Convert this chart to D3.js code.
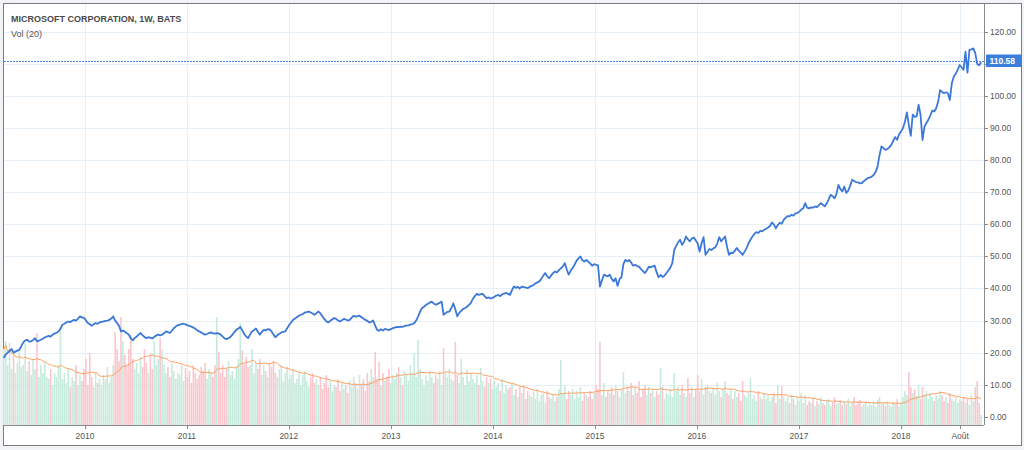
<!DOCTYPE html>
<html>
<head>
<meta charset="utf-8">
<script src="https://cdnjs.cloudflare.com/ajax/libs/d3/7.8.5/d3.min.js"></script>
<style>
  body { margin: 0; background: #f1f3f6; }
  text { font-family: "Liberation Sans", Arial, sans-serif; }
</style>
</head>
<body>
<div id="chart"></div>
<script>
// weekly bars, first one starts this monday
const firstWeek = "2009-03-16";

// weekly close, USD
const closes = [
  18.3, 19.4, 19.9, 20.5, 21.1, 20.0, 20.3, 20.6, 20.9, 22.0,
  23.2, 23.8, 24.0, 23.4, 23.5, 23.9, 24.5, 23.5, 23.7, 24.0,
  24.3, 24.7, 25.0, 25.2, 25.0, 25.6, 25.9, 26.2, 26.6, 27.4,
  28.7, 29.0, 29.4, 29.7, 29.5, 29.9, 30.2, 30.0, 30.6, 31.3,
  31.0, 30.8, 30.1, 29.2, 28.8, 28.4, 28.8, 29.2, 29.0, 29.4,
  29.6, 29.7, 29.9, 30.0, 30.2, 30.6, 31.3, 30.0, 29.2, 28.3,
  26.6, 26.9, 26.5, 26.0, 25.6, 24.4, 23.8, 24.5, 25.0, 25.6,
  26.1, 25.4, 24.9, 24.5, 24.8, 24.6, 24.4, 24.9, 25.3, 25.6,
  25.4, 25.6, 26.0, 26.6, 26.4, 26.1, 26.8, 27.6, 28.1, 28.5,
  28.7, 28.9, 29.0, 28.8, 28.5, 28.3, 28.1, 27.8, 27.4, 27.0,
  26.6, 26.3, 25.9, 25.6, 25.8, 26.1, 26.3, 26.0, 25.9, 26.1,
  25.9, 25.6, 25.0, 24.4, 24.2, 24.5, 24.9, 25.6, 26.4, 27.1,
  27.5, 28.0, 27.0, 25.8, 25.0, 24.5, 25.6, 26.6, 27.0, 27.5,
  26.5, 25.6, 26.4, 27.1, 26.9, 27.3, 27.2, 26.6, 25.6, 24.8,
  25.4, 25.9, 26.3, 26.5, 26.6, 27.6, 28.6, 29.4, 30.2, 30.6,
  31.1, 31.5, 31.8, 32.0, 32.5, 32.6, 32.8, 32.5, 32.2, 31.8,
  32.3, 32.8, 32.2, 31.3, 30.5, 29.8, 29.4, 29.9, 30.3, 30.8,
  30.5, 30.0, 29.7, 30.1, 30.5, 30.3, 30.0, 30.2, 30.9, 31.5,
  31.2, 31.4, 31.5, 31.0, 30.6, 30.2, 29.9, 29.4, 29.6, 30.0,
  28.4, 27.1, 26.8, 27.3, 26.9, 27.4, 27.2, 27.0, 27.3, 27.6,
  27.8, 28.0, 27.9, 28.1, 28.0, 28.3, 28.4, 28.5, 28.7, 28.9,
  29.2, 30.0, 31.3, 32.8, 33.9, 34.3, 34.9, 35.2, 35.6, 35.9,
  35.3, 34.9, 35.2, 35.5, 35.9, 31.8, 32.3, 32.7, 32.8, 33.9,
  35.4, 33.5, 31.3, 32.4, 33.0, 33.6, 33.9, 34.3, 34.9, 35.5,
  36.8, 37.6, 38.3, 38.0, 38.2, 38.3, 37.6, 37.0, 37.2, 36.9,
  37.0, 37.4, 37.8, 38.0, 37.6, 38.2, 38.4, 38.6, 38.3, 38.0,
  39.5, 40.6, 40.2, 40.5, 40.0, 40.6, 40.4, 40.3, 40.1, 40.5,
  40.8, 41.1, 41.6, 41.9, 42.2, 43.0, 44.0, 44.8, 43.8, 43.2,
  44.0, 44.8, 45.3, 45.0, 45.7, 46.3, 46.8, 47.9, 46.0, 44.3,
  45.5, 46.4, 47.4, 48.6, 49.4, 50.0, 48.8, 48.4, 48.9, 48.4,
  47.8, 47.1, 47.6, 47.4, 47.2, 40.6, 42.5, 44.3, 44.0, 43.8,
  44.3, 43.0, 42.2, 43.2, 40.8, 42.9, 43.5, 47.6, 48.9, 48.5,
  48.9, 48.0, 47.1, 47.4, 47.0, 46.8, 46.0, 45.4, 44.8, 45.7,
  46.8, 46.6, 46.9, 47.1, 45.0, 43.5, 44.2, 43.6, 44.0, 44.8,
  45.6, 46.5, 47.9, 52.0, 53.3, 54.4, 55.2, 53.6, 54.5, 56.2,
  55.3, 54.7, 55.6, 55.9, 55.0, 54.0, 51.5, 54.2, 56.0, 50.5,
  51.4, 52.3, 52.0, 52.5, 52.8, 54.0, 56.0, 54.7, 55.5, 56.2,
  53.0, 50.5, 51.2, 51.0, 51.8, 52.6, 51.8, 51.2, 50.5, 51.5,
  52.6, 54.1, 55.2, 56.2, 57.0, 57.6, 57.3, 58.0, 57.8, 58.3,
  58.6, 59.0, 59.5, 60.6, 59.9, 58.8, 59.8, 60.5, 60.2, 61.4,
  62.1, 62.6, 62.5, 63.0, 62.7, 63.4, 63.5, 64.0, 64.6, 65.0,
  66.6, 65.2, 65.0, 65.3, 65.2, 65.6, 65.4, 66.0, 66.6, 66.1,
  65.6, 66.5, 67.8, 69.2, 68.8, 68.1, 69.5, 72.3, 71.0, 70.3,
  71.8, 69.8, 70.5, 72.0, 73.9, 73.5, 73.2, 73.1, 72.8, 72.9,
  73.5, 74.0, 74.4, 74.6, 74.9, 75.4, 76.3, 78.0, 81.5, 84.3,
  83.8, 83.2, 83.5, 84.0, 84.8, 86.0, 87.2, 86.4, 88.0, 89.0,
  90.0, 92.0, 94.9, 91.0, 87.6, 94.2, 93.5, 93.7, 97.3, 94.2,
  86.3, 90.5, 91.6, 92.6, 94.0, 95.5, 95.2, 96.2, 98.3, 101.9,
  101.3, 100.9, 101.2, 100.9, 98.8, 104.0, 106.1, 107.0, 108.2, 109.7,
  109.0, 108.2, 113.9, 107.3, 114.4, 114.6, 114.9, 113.4, 110.0, 109.6, 110.58
];

// weekly volume, millions of shares
const volumes = [
  380, 420, 300, 410, 280, 350, 260, 310, 370, 290,
  300, 410, 270, 320, 250, 330, 280, 460, 240, 300,
  260, 310, 240, 230, 280, 200, 260, 240, 300, 490,
  230, 260, 210, 280, 190, 240, 220, 300, 200, 250,
  220, 280, 330, 200, 360, 240, 190, 260, 210, 230,
  200, 250, 230, 290, 210, 240, 300, 465, 380, 320,
  540, 420, 350, 300, 380, 450, 330, 280, 310, 260,
  340, 290, 380, 310, 260, 350, 280, 420, 300, 330,
  435, 380, 300, 260, 290, 240, 310, 270, 230, 260,
  250, 300, 220, 285, 240, 270, 210, 300, 260, 230,
  250, 290, 270, 310, 230, 280, 260, 240, 300, 540,
  365, 260, 300, 240, 280, 320, 250, 270, 230, 290,
  330, 510, 375, 300, 340, 290, 300, 380, 260, 310,
  280, 330, 250, 300, 270, 240, 310, 290, 320, 260,
  240, 280, 300, 220, 260, 290, 230, 250, 280, 210,
  230, 260, 200, 250, 270, 220, 190, 240, 260, 210,
  230, 200, 240, 180, 210, 250, 190, 220, 170, 200,
  190, 230, 170, 210, 180, 200, 160, 220, 190, 240,
  210, 180, 250, 200, 230, 170, 260, 220, 280, 240,
  365, 230, 315, 200, 260, 220, 240, 280, 210, 250,
  230, 260, 290, 240, 200, 270, 250, 220, 300, 260,
  360, 240, 425, 280, 230, 200, 250, 220, 270, 240,
  210, 250, 230, 270, 200, 385, 260, 240, 280, 230,
  220, 415, 250, 210, 330, 240, 200, 275, 220, 260,
  230, 210, 250, 200, 285, 220, 190, 240, 210, 230,
  180, 220, 190, 210, 170, 230, 160, 200, 180, 190,
  210, 150, 180, 140, 190, 160, 200, 130, 170, 150,
  140, 170, 130, 180, 120, 150, 160, 110, 170, 140,
  130, 150, 120, 140, 180, 325, 160, 200, 130, 170,
  150, 180, 130, 170, 140, 190, 120, 160, 150, 140,
  170, 130, 160, 200, 180, 415, 150, 210, 140, 170,
  160, 190, 150, 200, 170, 140, 180, 265, 160, 190,
  170, 210, 150, 190, 160, 220, 140, 180, 200, 150,
  190, 160, 180, 140, 170, 150, 285, 190, 130, 160,
  150, 180, 140, 260, 170, 190, 150, 200, 160, 140,
  235, 160, 190, 140, 180, 250, 170, 230, 150, 190,
  200, 170, 160, 190, 150, 210, 170, 140, 180, 220,
  160, 150, 180, 130, 170, 140, 160, 120, 220, 150,
  140, 160, 235, 130, 150, 120, 170, 140, 130, 160,
  130, 150, 120, 140, 160, 110, 200, 130, 195, 140,
  120, 140, 110, 150, 130, 100, 140, 120, 160, 110,
  150, 100, 120, 110, 130, 95, 120, 105, 140, 110,
  100, 120, 130, 95, 115, 140, 105, 110, 125, 100,
  120, 105, 130, 95, 110, 140, 100, 115, 125, 90,
  105, 120, 95, 110, 100, 115, 90, 125, 140, 105,
  110, 95, 120, 100, 90, 115, 105, 130, 95, 110,
  140, 170, 150, 265, 190, 160, 180, 145, 200, 130,
  190, 150, 170, 130, 160, 140, 120, 150, 130, 170,
  150, 120, 140, 110, 160, 130, 120, 140, 110, 130,
  120, 140, 110, 130, 100, 150, 120, 190, 220, 110, 50
];

const priceTicks = [0, 10, 20, 30, 40, 50, 60, 70, 80, 90, 100, 110, 120];
const timeTicks = ["2010-01-01", "2011-01-01", "2012-01-01", "2013-01-01", "2014-01-01",
                   "2015-01-01", "2016-01-01", "2017-01-01", "2018-01-01", "2018-08-01"];
const timeLabels = ["2010", "2011", "2012", "2013", "2014", "2015", "2016", "2017", "2018", "Août"];
const lastPrice = 110.58;
const maLength = 20;

const W = 1024, H = 450;
const plot = {left: 4, right: 984, top: 4, bottom: 425};

const parse = d3.timeParse("%Y-%m-%d");
const start = parse(firstWeek);
const bars = closes.map((c, i) => ({
  date: d3.timeWeek.offset(start, i),
  close: c,
  vol: volumes[i],
  up: i === 0 ? true : c >= closes[i - 1]
}));

// moving average of volume (shorter window at the very start)
bars.forEach((d, i) => {
  const from = Math.max(0, i - maLength + 1);
  d.ma = d3.mean(volumes.slice(from, i + 1));
});

const svg = d3.select("#chart").append("svg")
  .attr("width", W)
  .attr("height", H)
  .style("display", "block");

// outer frame
svg.append("rect")
  .attr("x", 3.5).attr("y", 3.5)
  .attr("width", 1018).attr("height", 442)
  .attr("fill", "#fff")
  .attr("stroke", "#7b7b7b");

const x = d3.scaleTime()
  .domain([parse("2010-01-01"), parse("2018-01-01")])
  .range([85, 901]);
const y = d3.scaleLinear().domain([0, 120]).range([416.7, 32]);
const yVol = d3.scaleLinear().domain([0, 500]).range([plot.bottom, 325]);

// grid
svg.append("g").selectAll("line")
  .data(priceTicks)
  .join("line")
  .attr("x1", plot.left).attr("x2", plot.right)
  .attr("y1", d => Math.round(y(d)) + 0.5).attr("y2", d => Math.round(y(d)) + 0.5)
  .attr("stroke", "#e6eef6");

svg.append("g").selectAll("line")
  .data(timeTicks)
  .join("line")
  .attr("x1", d => Math.round(x(parse(d))) + 0.5).attr("x2", d => Math.round(x(parse(d))) + 0.5)
  .attr("y1", plot.top).attr("y2", plot.bottom)
  .attr("stroke", "#e6eef6");

// volume bars
const step = x(d3.timeWeek.offset(start, 1)) - x(start);
svg.append("g").selectAll("rect")
  .data(bars)
  .join("rect")
  .attr("x", d => x(d.date) - step * 0.4)
  .attr("width", step * 0.8)
  .attr("y", d => yVol(d.vol))
  .attr("height", d => plot.bottom - yVol(d.vol))
  .attr("fill", d => d.up ? "#c6eadb" : "#f9c6cd");

// volume MA
svg.append("path")
  .datum(bars)
  .attr("fill", "none")
  .attr("stroke", "#ff9f5e")
  .attr("stroke-width", 1)
  .attr("d", d3.line().x(d => x(d.date)).y(d => yVol(d.ma)));

// last price dotted line
svg.append("line")
  .attr("x1", plot.left).attr("x2", plot.right)
  .attr("y1", Math.round(y(lastPrice)) - 0.5).attr("y2", Math.round(y(lastPrice)) - 0.5)
  .attr("stroke", "#4a88e4")
  .attr("stroke-dasharray", "2,1");

// price line
svg.append("path")
  .datum(bars)
  .attr("fill", "none")
  .attr("stroke", "#3b78d8")
  .attr("stroke-width", 1.8)
  .attr("stroke-linejoin", "round")
  .attr("d", d3.line().x(d => x(d.date)).y(d => y(d.close)));

// plot borders
svg.append("line")
  .attr("x1", plot.left).attr("x2", plot.right)
  .attr("y1", plot.bottom + 0.5).attr("y2", plot.bottom + 0.5)
  .attr("stroke", "#8a8a8a");
svg.append("line")
  .attr("x1", plot.right + 0.5).attr("x2", plot.right + 0.5)
  .attr("y1", plot.top).attr("y2", plot.bottom)
  .attr("stroke", "#8a8a8a");

// right price axis (the 110 label sits under the last price tag)
const labelTicks = priceTicks.filter(d => Math.abs(y(d) - y(lastPrice)) > 8);
const yAxis = svg.append("g");
yAxis.selectAll("line")
  .data(priceTicks)
  .join("line")
  .attr("x1", plot.right).attr("x2", plot.right + 4)
  .attr("y1", d => Math.round(y(d)) + 0.5).attr("y2", d => Math.round(y(d)) + 0.5)
  .attr("stroke", "#8a8a8a");
yAxis.selectAll("text")
  .data(labelTicks)
  .join("text")
  .attr("x", plot.right + 6)
  .attr("y", d => y(d) + 3)
  .attr("font-size", "8.5px")
  .attr("fill", "#555")
  .text(d => d3.format(".2f")(d));

// last price label
svg.append("rect")
  .attr("x", 986).attr("y", 54.5)
  .attr("width", 36).attr("height", 12.5)
  .attr("fill", "#3b7fdc");
svg.append("text")
  .attr("x", 989.5).attr("y", 64)
  .attr("font-size", "8.5px")
  .attr("font-weight", "bold")
  .attr("fill", "#fff")
  .text(lastPrice.toFixed(2));

// bottom time axis
const xAxis = svg.append("g");
xAxis.selectAll("line")
  .data(timeTicks)
  .join("line")
  .attr("x1", d => Math.round(x(parse(d))) + 0.5).attr("x2", d => Math.round(x(parse(d))) + 0.5)
  .attr("y1", plot.bottom).attr("y2", plot.bottom + 4)
  .attr("stroke", "#8a8a8a");
xAxis.selectAll("text")
  .data(timeTicks)
  .join("text")
  .attr("x", d => x(parse(d)))
  .attr("y", 439)
  .attr("text-anchor", "middle")
  .attr("font-size", "8.5px")
  .attr("fill", "#555")
  .text((d, i) => timeLabels[i]);

// legend texts
svg.append("text")
  .attr("x", 11).attr("y", 21.5)
  .attr("font-size", "9px")
  .attr("font-weight", "bold")
  .attr("fill", "#4a4a4a")
  .text("MICROSOFT CORPORATION, 1W, BATS");
svg.append("text")
  .attr("x", 11).attr("y", 37)
  .attr("font-size", "9px")
  .attr("fill", "#555")
  .text("Vol (20)");
</script>
</body>
</html>
